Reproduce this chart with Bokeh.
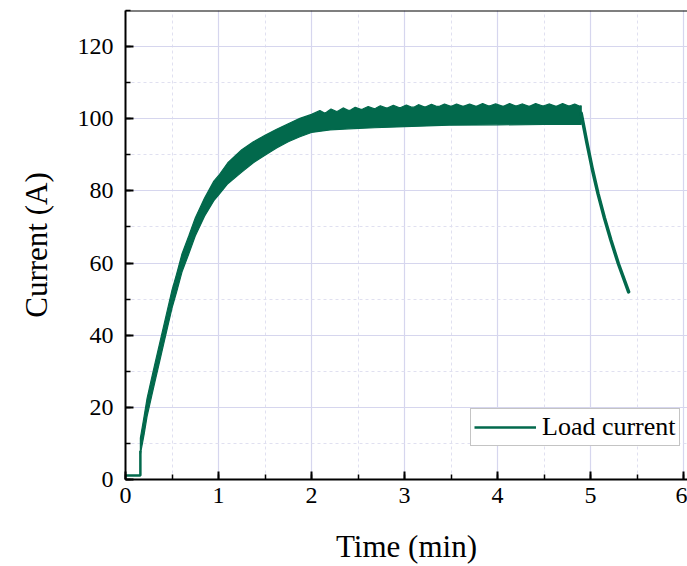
from bokeh.plotting import figure
from bokeh.models import Range1d, SingleIntervalTicker, Span, Legend, LegendItem
from bokeh.embed import file_html
from bokeh.resources import INLINE

# ---- data (time in min, current in A) ----
lead_t = [0.0, 0.16, 0.16]
lead_v = [1.1, 1.1, 8.0]

rise_t = [0.16, 0.20, 0.232, 0.28, 0.32, 0.365, 0.41, 0.455, 0.50, 0.55, 0.607, 0.68,
          0.75, 0.85, 0.95, 1.0, 1.1, 1.25, 1.375, 1.5, 1.625, 1.75, 1.875, 2.0]
rise_lower = [7.0, 12.5, 17.5, 23.0, 27.5, 32.5, 37.5, 42.5, 47.5, 52.0, 57.5, 62.5,
              67.5, 73.0, 77.3, 78.8, 82.0, 85.2, 87.8, 89.9, 91.9, 93.6, 95.0, 96.2]
rise_upper = [11.5, 17.5, 22.5, 28.0, 32.5, 37.5, 42.5, 47.5, 52.5, 57.0, 62.5, 67.5,
              72.5, 78.0, 82.7, 84.2, 87.8, 91.4, 93.6, 95.4, 97.1, 98.6, 100.1, 101.2]

tooth_t = [2.09, 2.21, 2.34, 2.47, 2.61, 2.74, 2.88, 3.02, 3.15, 3.29, 3.43, 3.56, 3.70,
           3.84, 3.98, 4.13, 4.27, 4.41, 4.56, 4.70, 4.83]
tooth_v = [102.3, 102.7, 103.0, 103.2, 103.4, 103.6, 103.7, 103.8, 103.9, 104.0, 104.1,
           104.1, 104.1, 104.2, 104.1, 104.2, 104.1, 104.2, 104.1, 104.2, 104.1]
valley_t = [2.14, 2.16, 2.27, 2.29, 2.40, 2.42, 2.53, 2.55, 2.67, 2.69, 2.80, 2.82, 2.94,
            2.96, 3.08, 3.10, 3.21, 3.23, 3.35, 3.37, 3.49, 3.51, 3.62, 3.64, 3.76, 3.78,
            3.90, 3.92, 4.05, 4.07, 4.19, 4.21, 4.33, 4.35, 4.48, 4.50, 4.62, 4.64, 4.76,
            4.78, 4.88]
valley_v = [101.6, 101.8, 102.0, 102.2, 102.3, 102.4, 102.6, 102.7, 102.8, 102.9, 103.0,
            103.0, 103.1, 103.1, 103.2, 103.2, 103.3, 103.3, 103.4, 103.4, 103.5, 103.5,
            103.5, 103.5, 103.5, 103.5, 103.6, 103.6, 103.5, 103.5, 103.6, 103.6, 103.5,
            103.5, 103.6, 103.6, 103.5, 103.5, 103.6, 103.6, 103.5]
band_end_t = [4.90, 4.90]
band_end_v = [103.6, 98.4]

plateau_lower_t = [2.2, 2.4, 2.68, 3.0, 3.48, 4.0, 4.5]
plateau_lower_v = [96.9, 97.2, 97.5, 97.8, 98.2, 98.3, 98.4]

fall_t = [4.90, 4.96, 5.02, 5.08, 5.15, 5.22, 5.30, 5.41]
fall_v = [101.5, 93.5, 86.0, 79.3, 72.5, 66.3, 59.8, 52.0]

x_ticks_interval = 1
y_ticks_interval = 20

COLOR = "#02694C"
FONT = "Liberation Serif"

# ---- build band outline from the lists ----
teeth = sorted(zip(tooth_t + valley_t, tooth_v + valley_v))
upper_t = rise_t + [t for t, _ in teeth] + band_end_t
upper_v = rise_upper + [v for _, v in teeth] + band_end_v
lower_t = rise_t + plateau_lower_t
lower_v = rise_lower + plateau_lower_v
poly_x = upper_t + lower_t[::-1]
poly_y = upper_v + lower_v[::-1]

p = figure(width=687, height=566, x_range=Range1d(0, 6.043), y_range=Range1d(0, 130),
           output_backend="svg", toolbar_location=None,
           min_border_left=125, min_border_right=0, min_border_top=10, min_border_bottom=87)
p.outline_line_color = None
p.background_fill_color = "white"
p.border_fill_color = "white"

p.xaxis.ticker = SingleIntervalTicker(interval=x_ticks_interval, num_minor_ticks=2)
p.yaxis.ticker = SingleIntervalTicker(interval=y_ticks_interval, num_minor_ticks=2)

for ax in (p.xaxis[0], p.yaxis[0]):
    ax.axis_line_color = "black"
    ax.axis_line_width = 2
    ax.major_tick_line_color = "black"
    ax.major_tick_line_width = 2
    ax.minor_tick_line_color = "black"
    ax.minor_tick_line_width = 1.5
    ax.major_tick_in = 8
    ax.major_tick_out = 0
    ax.minor_tick_in = 5
    ax.minor_tick_out = 0
    ax.major_label_text_font = FONT
    ax.major_label_text_font_size = "24px"
    ax.major_label_text_color = "black"
    ax.axis_label_text_font = FONT
    ax.axis_label_text_font_size = "31px"
    ax.axis_label_text_font_style = "normal"
    ax.axis_label_text_color = "black"

p.xaxis.axis_label = "Time (min)"
p.yaxis.axis_label = "Current (A)"
p.xaxis.major_label_standoff = 8
p.yaxis.major_label_standoff = 12
p.xaxis.axis_label_standoff = 23
p.yaxis.axis_label_standoff = 21

for g in (p.xgrid[0], p.ygrid[0]):
    g.grid_line_color = "#d6d6ee"
    g.grid_line_width = 1.2
    g.minor_grid_line_color = "#e0e0f0"
    g.minor_grid_line_dash = "3 3"
    g.minor_grid_line_width = 1

p.add_layout(Span(location=130, dimension="width", line_color="black", line_width=2))

p.patch(poly_x, poly_y, fill_color=COLOR, line_color=COLOR, line_width=1.2)
lead = p.line(lead_t, lead_v, line_color=COLOR, line_width=2.5)
p.line(fall_t, fall_v, line_color=COLOR, line_width=3.5, line_join="round", line_cap="round")

legend = Legend(items=[LegendItem(label="Load current", renderers=[lead])],
                location=(345, 33))
legend.label_text_font = FONT
legend.label_text_font_size = "26px"
legend.label_text_color = "black"
legend.glyph_width = 62
legend.glyph_height = 24
legend.label_standoff = 6
legend.padding = 3
legend.margin = 0
legend.spacing = 0
legend.border_line_color = "#8a8a8a"
legend.border_line_width = 1.5
legend.background_fill_color = "white"
legend.background_fill_alpha = 1
p.add_layout(legend)

open("out.html", "w").write(file_html(p, INLINE))
